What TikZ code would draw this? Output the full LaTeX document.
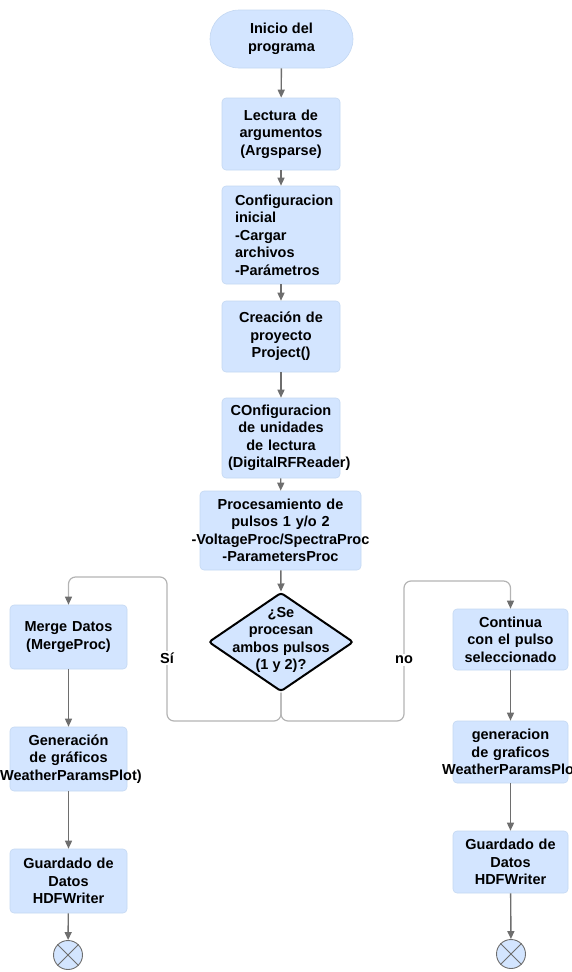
\documentclass[tikz,border=0pt]{standalone}
\usepackage{fontspec}
\setmainfont{Liberation Sans}
\usetikzlibrary{arrows.meta,shapes.geometric}
\definecolor{boxfill}{HTML}{D3E5FF}
\definecolor{boxline}{HTML}{C4D8F2}
\definecolor{arrgray}{HTML}{6E6E6E}
\definecolor{brgray}{HTML}{B4B4B4}
\newcommand{\ovf}[1]{\makebox[0pt][c]{#1}}
\tikzset{
  txt/.style={font=\fontsize{14.5}{17.5}\selectfont\bfseries, align=center},
  base/.style={txt, fill=boxfill, draw=boxline, line width=0.6pt, rounded corners=4pt, inner sep=0pt},
  stepbox/.style={base, minimum width=#1, text width=#1-12pt, inner xsep=6pt},
  arr/.style={draw=arrgray, line width=1.4pt, -{Triangle[length=8pt,width=7pt]}},
  brline/.style={draw=brgray, line width=1.2pt, rounded corners=7pt},
  brarr/.style={brline, -{Triangle[length=8pt,width=7pt,color=arrgray,fill=arrgray]}},
  lbl/.style={txt, fill=white, inner sep=2pt},
  endc/.style={circle, fill=boxfill, draw=arrgray, line width=0.9pt, minimum size=29pt, inner sep=0pt},
}
\begin{document}
\begin{tikzpicture}[x=1pt,y=-1pt]
\useasboundingbox (0,0) rectangle (571,972);
\clip (0,0) rectangle (571,972);

\node[base, minimum width=143pt, minimum height=58pt, rounded corners=29pt] (start) at (281.5,39) {Inicio del\\programa};
\node[stepbox=118pt, minimum height=72pt] (lect) at (281,134) {Lectura de\\argumentos\\(Argsparse)};
\node[base, minimum width=118pt, text width=92pt, inner xsep=13pt, align=left, minimum height=98pt] (conf) at (281,235) {Configuracion\\inicial\\-Cargar\\archivos\\-Parámetros};
\node[stepbox=118pt, minimum height=71pt] (crea) at (281,336.5) {Creación de\\proyecto\\Project()};
\node[stepbox=118pt, minimum height=80pt] (unid) at (281,438) {COnfiguracion\\de unidades\\de lectura\\(DigitalRFReader)};
\node[stepbox=161pt, minimum height=79pt] (proc) at (280.5,530.5) {Procesamiento de\\pulsos 1 y/o 2\\\ovf{-VoltageProc/SpectraProc}\\-ParametersProc};
\node[diamond, fill=boxfill, draw=black, line width=2pt, rounded corners=3pt, minimum width=145pt, minimum height=99pt, inner sep=0pt] (dec) at (281,642) {};
\node[txt, inner sep=0pt] (dectxt) at (281,640) {¿Se\\procesan\\ambos pulsos\\(1 y 2)?};

\node[stepbox=117pt, minimum height=64pt] (merge) at (68.5,637) {Merge Datos\\(MergeProc)};
\node[stepbox=117pt, minimum height=64pt] (genl) at (68.5,759) {Generación\\de gráficos\\\ovf{(WeatherParamsPlot)}};
\node[stepbox=117pt, minimum height=64pt] (guardl) at (68.5,881) {Guardado de\\Datos\\HDFWriter};
\node[endc] (endl) at (68,955) {};
\draw[arrgray, line width=0.9pt] (endl.north west) -- (endl.south east) (endl.north east) -- (endl.south west);

\node[stepbox=115pt, minimum height=61pt] (cont) at (510.5,639.5) {Continua\\con el pulso\\seleccionado};
\node[stepbox=115pt, minimum height=62pt] (genr) at (510.5,752) {generacion\\de graficos\\\ovf{WeatherParamsPlot}};
\node[stepbox=115pt, minimum height=62pt] (guardr) at (510.5,862) {Guardado de\\Datos\\HDFWriter};
\node[endc] (endr) at (511,954) {};
\draw[arrgray, line width=0.9pt] (endr.north west) -- (endr.south east) (endr.north east) -- (endr.south west);

\draw[arr] (start) -- (lect);
\draw[arr] (lect) -- (conf);
\draw[arr] (conf) -- (crea);
\draw[arr] (crea) -- (unid);
\draw[arr] (unid) -- (proc);
\draw[arr] (proc) -- (dec.north);

\coordinate (jn) at (281,721);
\coordinate (l1) at (167,721);
\coordinate (l2) at (167,577);
\coordinate (l3) at (68.5,577);
\coordinate (r1) at (404,721);
\coordinate (r2) at (404,581);
\coordinate (r3) at (510.5,581);
\draw[brarr] (dec.south) -- (jn) -- (l1) -- (l2) -- (l3) -- (merge.north);
\draw[brarr] (dec.south) -- (jn) -- (r1) -- (r2) -- (r3) -- (cont.north);
\node[lbl] (si) at (167,658) {Sí};
\node[lbl] (no) at (404,660) {no};

\draw[arr] (merge) -- (genl);
\draw[arr] (genl) -- (guardl);
\draw[arr] (guardl) -- (endl);
\draw[arr] (cont) -- (genr);
\draw[arr] (genr) -- (guardr);
\draw[arr] (guardr) -- (endr);
\end{tikzpicture}
\end{document}
